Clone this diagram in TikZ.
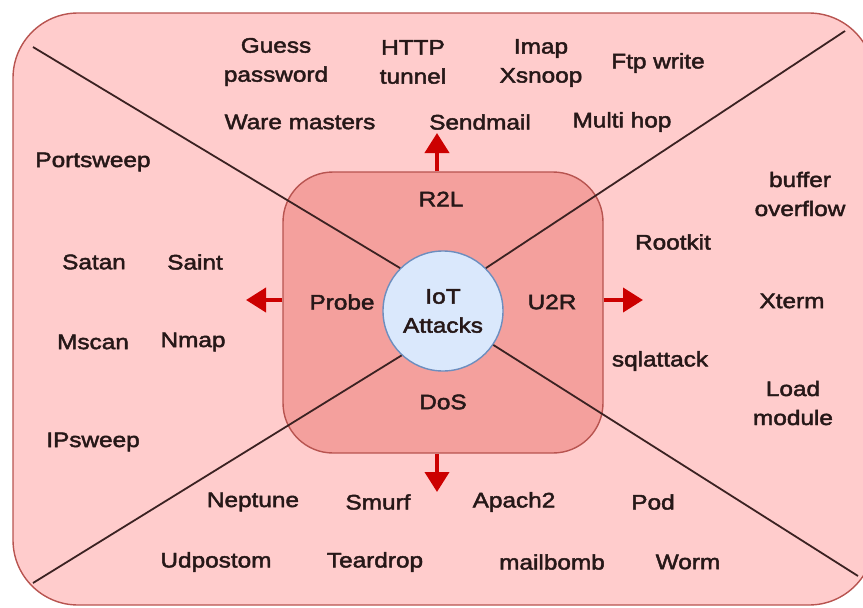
\documentclass[tikz,border=0pt]{standalone}
\usepackage{fontspec}
\setmainfont{Liberation Sans}[FakeStretch=1.16,FakeBold=2.2]
\usetikzlibrary{arrows.meta}

\definecolor{outerfill}{HTML}{FFCCCC}
\definecolor{boxline}{HTML}{B85450}
\definecolor{innerfill}{HTML}{F4A09D}
\definecolor{corefill}{HTML}{DAE8FC}
\definecolor{coreline}{HTML}{6C8EBF}
\definecolor{divider}{HTML}{3B2222}
\definecolor{arrowred}{HTML}{CC0000}
\definecolor{ink}{HTML}{261818}

\begin{document}
\begin{tikzpicture}[x=1pt,y=-1pt,
  lbl/.style={font=\fontsize{21}{29}\selectfont, text=ink, align=center, inner sep=0pt},
  divline/.style={draw=divider, line width=1.8pt},
  push/.style={draw=arrowred, line width=4pt, -{Triangle[length=20pt,width=24pt]}}]

\path[use as bounding box] (0,0) rectangle (863,608);
\clip (0,0) rectangle (863,608);

% outer frame (its right side runs past the edge) and central box
\draw[draw=boxline, fill=outerfill, line width=1.4pt, rounded corners=65pt]
  (13,13) rectangle (874,605);
\node[draw=boxline, fill=innerfill, line width=1.4pt, rounded corners=50pt,
      minimum width=320pt, minimum height=281pt, inner sep=0pt] (mid) at (443,312.5) {};

% core circle
\node[circle, draw=coreline, fill=corefill, line width=1.4pt, minimum size=120pt,
      inner sep=0pt, lbl] (core) at (443,311) {IoT\\Attacks};

% diagonal dividers from the frame corners to the circle
\coordinate (nw) at (33,47);
\coordinate (ne) at (845,31);
\coordinate (se) at (858,576);
\coordinate (sw) at (33,583);
\draw[divline] (nw) -- (core.135);
\draw[divline] (ne) -- (core.45);
\draw[divline] (se) -- (core.-34);
\draw[divline] (sw) -- (core.-133);

% outward arrows
\coordinate (uptip) at (437,133);
\coordinate (lefttip) at (246,300);
\coordinate (righttip) at (643,300);
\coordinate (downtip) at (437,492);
\draw[push] (mid.north -| uptip) -- (uptip);
\draw[push] (mid.west |- lefttip) -- (lefttip);
\draw[push] (mid.east |- righttip) -- (righttip);
\draw[push] (mid.south -| downtip) -- (downtip);

% category names
\node[lbl] (r2l) at (441,199) {R2L};
\node[lbl] (probe) at (342,302) {Probe};
\node[lbl] (u2r) at (552,302) {U2R};
\node[lbl] (dos) at (443,402) {DoS};

% R2L attacks
\node[lbl] (guess) at (276,62) {Guess\\password};
\node[lbl] (http) at (413,62) {HTTP\\tunnel};
\node[lbl] (imap) at (541,63) {Imap\\Xsnoop};
\node[lbl] (ftp) at (658,63) {Ftp write};
\node[lbl] (ware) at (300,122) {Ware masters};
\node[lbl] (sendmail) at (480,122) {Sendmail};
\node[lbl] (multihop) at (622,122) {Multi hop};

% Probe attacks
\node[lbl] (portsweep) at (93,162) {Portsweep};
\node[lbl] (satan) at (94,262) {Satan};
\node[lbl] (saint) at (195,262) {Saint};
\node[lbl] (mscan) at (93,342) {Mscan};
\node[lbl] (nmap) at (193,342) {Nmap};
\node[lbl] (ipsweep) at (93,442) {IPsweep};

% U2R attacks
\node[lbl] (buffer) at (800,194) {buffer\\overflow};
\node[lbl] (rootkit) at (673,242) {Rootkit};
\node[lbl] (xterm) at (792,301) {Xterm};
\node[lbl] (sqlattack) at (660,361) {sqlattack};
\node[lbl] (loadmod) at (793,403) {Load\\module};

% DoS attacks
\node[lbl] (neptune) at (253,502) {Neptune};
\node[lbl] (smurf) at (378,502) {Smurf};
\node[lbl] (apach) at (514,502) {Apach2};
\node[lbl] (pod) at (653,502) {Pod};
\node[lbl] (udpostom) at (216,562) {Udpostom};
\node[lbl] (teardrop) at (375,562) {Teardrop};
\node[lbl] (mailbomb) at (552,562) {mailbomb};
\node[lbl] (worm) at (688,562) {Worm};
\end{tikzpicture}
\end{document}
